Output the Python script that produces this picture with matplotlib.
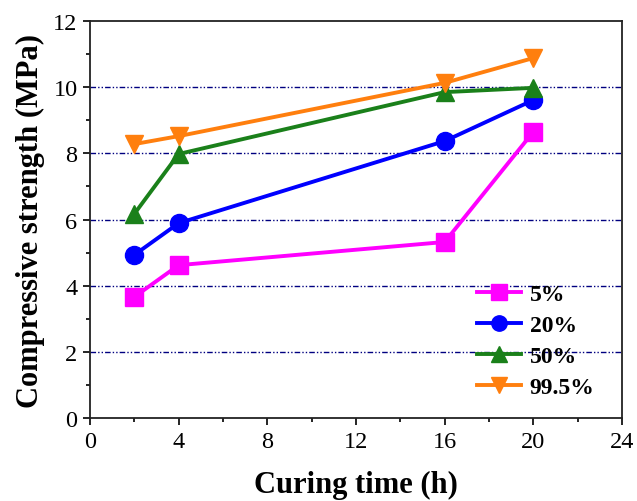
import matplotlib
matplotlib.use("Agg")
import matplotlib.pyplot as plt
from matplotlib.ticker import MultipleLocator

curing_time = [2, 4, 16, 20]
s5 = [3.66, 4.62, 5.32, 8.65]
s20 = [4.93, 5.89, 8.37, 9.61]
s50 = [6.17, 7.98, 9.85, 9.98]
s995 = [8.28, 8.52, 10.13, 10.88]
labels = ["5%", "20%", "50%", "99.5%"]
colors = ["#FF00FF", "#0000FF", "#1A801A", "#FF7F0E"]
markers = ["s", "o", "^", "v"]

plt.rcParams['font.family'] = ['Liberation Serif', 'DejaVu Serif']

fig = plt.figure(figsize=(6.37, 5.02), dpi=100)
ax = fig.add_axes([90/637, 1-419/502, (622-90)/637, (419-22)/502])

for y in [2, 4, 6, 8, 10]:
    ax.axhline(y, color="#000080", lw=1.0, ls=(0, (4, 1.5, 1, 1.5, 1, 1.5)), zorder=1)

for vals, lab, c, m in zip([s5, s20, s50, s995], labels, colors, markers):
    ax.plot(curing_time, vals, color=c, marker=m, ms=13, lw=2.8, label=lab, zorder=3)

ax.set_xlim(0, 24)
ax.set_ylim(0, 12)
ax.xaxis.set_major_locator(MultipleLocator(4))
ax.xaxis.set_minor_locator(MultipleLocator(2))
ax.yaxis.set_major_locator(MultipleLocator(2))
ax.yaxis.set_minor_locator(MultipleLocator(1))
ax.tick_params(which="major", direction="out", length=5, width=1.2, labelsize=17.5, pad=4)
ax.tick_params(which="minor", direction="out", length=3, width=1.2)
for sp in ax.spines.values():
    sp.set_linewidth(1.3)
    sp.set_color("#222222")

ax.set_xlabel("Curing time (h)", fontsize=22, fontweight="bold", labelpad=13)
ax.set_ylabel("Compressive strength (MPa)", fontsize=22, fontweight="bold", labelpad=6)

leg = ax.legend(loc="lower right", bbox_to_anchor=(0.975, 0.015), frameon=False,
                prop={"size": 17, "weight": "bold"}, handlelength=1.9,
                labelspacing=0.4, handletextpad=0.35, borderaxespad=0.2,
                markerscale=0.85)

fig.savefig("out.png", dpi=100)
